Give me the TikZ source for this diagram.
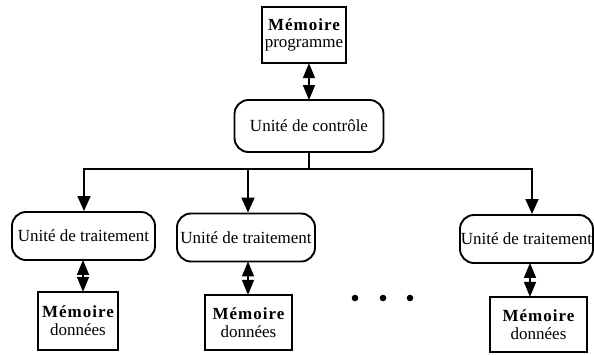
\documentclass[tikz,border=0pt]{standalone}
\usepackage{fontspec}
\setmainfont{Liberation Serif}
\usetikzlibrary{arrows.meta}
\begin{document}
\begin{tikzpicture}[x=1pt,y=-1pt,
  font=\fontsize{17}{19}\selectfont,
  membox/.style={draw,line width=2.3pt,inner sep=0pt,align=center,
    minimum width=#1,minimum height=55pt},
  unitbox/.style={draw,line width=1.9pt,rounded corners=14pt,inner sep=0pt,
    minimum width=#1,minimum height=48pt},
  link/.style={line width=1.6pt},
  feed/.style={link,-{Triangle[length=15pt,width=13pt]}},
  both/.style={link,{Triangle[length=15pt,width=12pt]}-{Triangle[length=15pt,width=12pt]},shorten <=-1pt,shorten >=-1pt},
  memtitle/.style={font=\fontsize{17}{19}\selectfont\bfseries\addfontfeature{LetterSpace=6}}
]
\useasboundingbox (0,0) rectangle (594,354);

% program memory and the control unit
\node[membox=84pt,minimum height=56pt] (mprog) at (304,35)
  {{\bfseries\addfontfeature{LetterSpace=6}Mémoire}\\[-2pt]programme};
\node[unitbox=149pt,minimum height=52pt] (ctrl) at (309,126) {Unité de contrôle};

% processing units
\node[unitbox=143pt] (t1) at (83.5,236) {Unité de traitement};
\node[unitbox=138pt] (t2) at (246,237.5) {Unité de traitement};
\node[unitbox=133pt] (t3) at (526.5,239) {Unité de traitement};

% data memories
\node[membox=80pt,minimum height=58pt] (m1) at (78,321)
  {{\bfseries\addfontfeature{LetterSpace=6}Mémoire}\\[-1pt]données};
\node[membox=87pt] (m2) at (248.5,322.5)
  {{\bfseries\addfontfeature{LetterSpace=6}Mémoire}\\[-1pt]données};
\node[membox=97pt] (m3) at (538.5,324.5)
  {{\bfseries\addfontfeature{LetterSpace=6}Mémoire}\\[-1pt]données};

% distribution bus
\coordinate (bus) at (309,169);
\coordinate (b1) at (84,169);
\coordinate (b2) at (248,169);
\coordinate (b3) at (532,169);

\draw[both] (ctrl.north |- mprog.south) -- (ctrl.north);
\draw[link] (ctrl.south) -- (bus);
\draw[link,line cap=rect] (b1) -- (b3);
\draw[feed] (b1) -- (b1 |- t1.north);
\draw[feed] (b2) -- (b2 |- t2.north);
\draw[feed] (b3) -- (b3 |- t3.north);

\draw[both] (t1.south -| 83,0) -- (m1.north -| 83,0);
\draw[both] (t2.south -| 248,0) -- (m2.north -| 248,0);
\draw[both] (t3.south -| 530,0) -- (m3.north -| 530,0);

% ellipsis between the units
\foreach \dx in {355,383,410}
  \fill (\dx,298) circle (3.3pt);
\end{tikzpicture}
\end{document}
